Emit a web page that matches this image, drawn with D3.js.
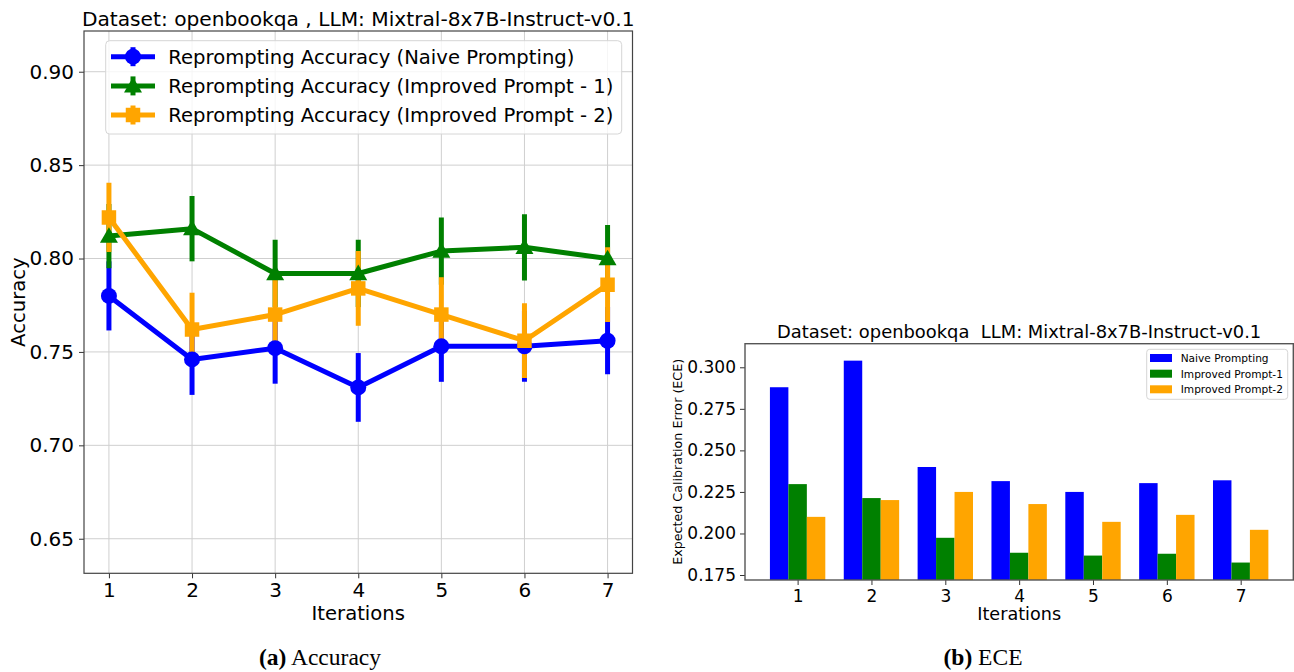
<!DOCTYPE html>
<html>
<head>
<meta charset="utf-8">
<script src="https://cdn.jsdelivr.net/npm/d3@7"></script>
<style>
  html, body { margin: 0; padding: 0; background: #fff; }
  svg { display: block; }
  text { font-family: "DejaVu Sans", sans-serif; fill: #000; }
</style>
</head>
<body>
<svg id="chart" width="1294" height="672"></svg>
<script>
// ---------- data ----------
const iterations = [1, 2, 3, 4, 5, 6, 7];

const accNaive      = [0.780, 0.746, 0.752, 0.731, 0.753, 0.753, 0.756];
const accNaiveErr   = [0.0185, 0.019, 0.019, 0.0184, 0.019, 0.019, 0.018];
const accImp1       = [0.812, 0.816, 0.792, 0.792, 0.804, 0.806, 0.800];
const accImp1Err    = [0.0172, 0.0175, 0.018, 0.018, 0.018, 0.0177, 0.018];
const accImp2       = [0.822, 0.762, 0.770, 0.784, 0.770, 0.756, 0.786];
const accImp2Err    = [0.0185, 0.0197, 0.019, 0.020, 0.020, 0.020, 0.020];

const eceNaive = [0.288, 0.304, 0.240, 0.2315, 0.225, 0.2303, 0.232];
const eceImp1  = [0.2297, 0.2213, 0.1974, 0.1884, 0.1867, 0.1878, 0.1825];
const eceImp2  = [0.210, 0.2201, 0.225, 0.2177, 0.207, 0.2112, 0.2022];

const accTicks = [0.65, 0.70, 0.75, 0.80, 0.85, 0.90];
const eceTicks = [0.175, 0.200, 0.225, 0.250, 0.275, 0.300];

const accLegend = ["Reprompting Accuracy (Naive Prompting)",
                   "Reprompting Accuracy (Improved Prompt - 1)",
                   "Reprompting Accuracy (Improved Prompt - 2)"];
const eceLegend = ["Naive Prompting", "Improved Prompt-1", "Improved Prompt-2"];
const colors = ["#0000ff", "#008000", "#ffa500"];
const markers = ["circle", "triangle", "square"];

const svg = d3.select("#chart");

// ---------- left chart: accuracy ----------
(function () {
  const L = 84, R = 632.5, T = 31, B = 573.3;
  const x = d3.scaleLinear().domain([0.7, 7.3]).range([L, R]);
  const y = d3.scaleLinear().domain([0.6315, 0.9218]).range([B, T]);
  const g = svg.append("g");

  // grid
  g.append("g").selectAll("line").data(iterations).join("line")
    .attr("x1", d => x(d)).attr("x2", d => x(d)).attr("y1", T).attr("y2", B)
    .attr("stroke", "#cfcfcf").attr("stroke-width", 1);
  g.append("g").selectAll("line").data(accTicks).join("line")
    .attr("x1", L).attr("x2", R).attr("y1", d => y(d)).attr("y2", d => y(d))
    .attr("stroke", "#cfcfcf").attr("stroke-width", 1);

  // axes
  const xa = g.append("g").attr("transform", `translate(0,${B})`)
    .call(d3.axisBottom(x).tickValues(iterations).tickFormat(d3.format("d")).tickSize(5).tickPadding(5));
  const ya = g.append("g").attr("transform", `translate(${L},0)`)
    .call(d3.axisLeft(y).tickValues(accTicks).tickFormat(d3.format(".2f")).tickSize(5).tickPadding(5));
  [xa, ya].forEach(a => {
    a.select(".domain").remove();
    a.selectAll("line").attr("stroke", "#333");
    a.selectAll("text").style("font-size", "20px").attr("font-family", "DejaVu Sans");
  });
  xa.selectAll("text").attr("dy", "0.71em");

  const series = [[accNaive, accNaiveErr], [accImp1, accImp1Err], [accImp2, accImp2Err]];
  g.append("clipPath").attr("id", "clipL").append("rect")
    .attr("x", L).attr("y", T).attr("width", R - L).attr("height", B - T);
  const plot = g.append("g").attr("clip-path", "url(#clipL)");

  // error bars first (lower zorder)
  series.forEach((s, k) => {
    plot.append("g").selectAll("line").data(iterations).join("line")
      .attr("x1", (d) => x(d)).attr("x2", d => x(d))
      .attr("y1", (d, i) => y(s[0][i] - s[1][i])).attr("y2", (d, i) => y(s[0][i] + s[1][i]))
      .attr("stroke", colors[k]).attr("stroke-width", 5);
  });
  // lines and markers
  const sym = {
    circle: d3.symbol().type(d3.symbolCircle).size(Math.PI * 64),
    triangle: d3.symbol().type(d3.symbolTriangle).size(140),
    square: d3.symbol().type(d3.symbolSquare).size(210)
  };
  series.forEach((s, k) => {
    const line = d3.line().x((d, i) => x(iterations[i])).y(d => y(d));
    plot.append("path").datum(s[0]).attr("d", line)
      .attr("fill", "none").attr("stroke", colors[k]).attr("stroke-width", 5)
      .attr("stroke-linejoin", "round");
    plot.append("g").selectAll("path").data(s[0]).join("path")
      .attr("transform", (d, i) => `translate(${x(iterations[i])},${y(d) + (markers[k] === "triangle" ? 1.5 : 0)})`)
      .attr("d", sym[markers[k]]).attr("fill", colors[k]);
  });

  // frame
  g.append("rect").attr("x", L).attr("y", T).attr("width", R - L).attr("height", B - T)
    .attr("fill", "none").attr("stroke", "#444").attr("stroke-width", 1.2);

  // legend
  const lg = g.append("g");
  lg.append("rect").attr("x", 105.7).attr("y", 40.7).attr("width", 516).attr("height", 93.3)
    .attr("rx", 4).attr("fill", "#fff").attr("fill-opacity", 0.8).attr("stroke", "#d6d6d6");
  const rowsY = [56.7, 85.9, 115];
  accLegend.forEach((t, k) => {
    const cy = rowsY[k];
    lg.append("line").attr("x1", 111).attr("x2", 155).attr("y1", cy).attr("y2", cy)
      .attr("stroke", colors[k]).attr("stroke-width", 5);
    lg.append("line").attr("x1", 133).attr("x2", 133).attr("y1", cy - 9.5).attr("y2", cy + 9.5)
      .attr("stroke", colors[k]).attr("stroke-width", 5);
    lg.append("path").attr("transform", `translate(133,${cy + (markers[k] === "triangle" ? 1.5 : 0)})`)
      .attr("d", sym[markers[k]]).attr("fill", colors[k]);
    lg.append("text").attr("x", 168.3).attr("y", cy).attr("dy", "0.36em")
      .style("font-size", "19.6px").text(t);
  });

  // title and labels
  g.append("text").attr("x", (L + R) / 2).attr("y", 26).attr("text-anchor", "middle")
    .style("font-size", "20.2px").text("Dataset: openbookqa , LLM: Mixtral-8x7B-Instruct-v0.1");
  g.append("text").attr("x", (L + R) / 2).attr("y", 620).attr("text-anchor", "middle")
    .style("font-size", "19.6px").text("Iterations");
  g.append("text").attr("transform", `translate(25,${(T + B) / 2}) rotate(-90)`)
    .attr("text-anchor", "middle").style("font-size", "19.6px").text("Accuracy");
})();

// ---------- right chart: ECE ----------
(function () {
  const L = 745, R = 1293.3, T = 343.7, B = 580;
  const x = d3.scaleLinear().domain([0.2875, 7.7125]).range([L, R]);
  const y = d3.scaleLinear().domain([0.172, 0.3142]).range([B, T]);
  const g = svg.append("g");
  const w = 0.25;

  g.append("clipPath").attr("id", "clipR").append("rect")
    .attr("x", L).attr("y", T).attr("width", R - L).attr("height", B - T);
  const plot = g.append("g").attr("clip-path", "url(#clipR)");
  const seriesE = [eceNaive, eceImp1, eceImp2];
  seriesE.forEach((s, k) => {
    plot.append("g").selectAll("rect").data(s).join("rect")
      .attr("x", (d, i) => x(iterations[i] + (k - 1.5) * w))
      .attr("width", x(w) - x(0))
      .attr("y", d => y(d))
      .attr("height", d => B + 5 - y(d))
      .attr("fill", colors[k]);
  });

  const xa = g.append("g").attr("transform", `translate(0,${B})`)
    .call(d3.axisBottom(x).tickValues(iterations).tickFormat(d3.format("d")).tickSize(5).tickPadding(5));
  const ya = g.append("g").attr("transform", `translate(${L},0)`)
    .call(d3.axisLeft(y).tickValues(eceTicks).tickFormat(d3.format(".3f")).tickSize(5).tickPadding(4));
  [xa, ya].forEach(a => {
    a.select(".domain").remove();
    a.selectAll("line").attr("stroke", "#333");
    a.selectAll("text").style("font-size", "17px").attr("font-family", "DejaVu Sans");
  });
  xa.selectAll("text").attr("dy", "0.71em");

  g.append("rect").attr("x", L).attr("y", T).attr("width", R - L).attr("height", B - T)
    .attr("fill", "none").attr("stroke", "#555").attr("stroke-width", 1.4);

  // legend
  const lg = g.append("g");
  lg.append("rect").attr("x", 1146.7).attr("y", 349.3).attr("width", 141).attr("height", 50)
    .attr("rx", 3).attr("fill", "#fff").attr("fill-opacity", 0.8).attr("stroke", "#d6d6d6");
  const rowsY = [358, 373.7, 389.3];
  eceLegend.forEach((t, k) => {
    lg.append("rect").attr("x", 1150).attr("y", rowsY[k] - 4).attr("width", 22).attr("height", 8)
      .attr("fill", colors[k]);
    lg.append("text").attr("x", 1180.7).attr("y", rowsY[k]).attr("dy", "0.36em")
      .style("font-size", "10.6px").text(t);
  });

  g.append("text").attr("x", (L + R) / 2).attr("y", 338.3).attr("text-anchor", "middle")
    .style("font-size", "17.9px")
    .text("Dataset: openbookqa\u00a0\u00a0LLM: Mixtral-8x7B-Instruct-v0.1");
  g.append("text").attr("x", (L + R) / 2).attr("y", 620).attr("text-anchor", "middle")
    .style("font-size", "17.6px").text("Iterations");
  g.append("text").attr("transform", `translate(682,${(T + B) / 2}) rotate(-90)`)
    .attr("text-anchor", "middle").style("font-size", "12.7px")
    .text("Expected Calibration Error (ECE)");
})();

// ---------- captions ----------
function caption(cx, label, rest) {
  const t = svg.append("text").attr("x", cx).attr("y", 665).attr("text-anchor", "middle")
    .style("font-family", "'Liberation Serif', 'Times New Roman', serif").style("font-size", "23.5px");
  t.append("tspan").style("font-weight", "bold").style("font-family", "'Liberation Serif', serif").text(label);
  t.append("tspan").style("font-family", "'Liberation Serif', serif").text(" " + rest);
}
caption(320, "(a)", "Accuracy");
caption(983, "(b)", "ECE");
</script>
</body>
</html>
